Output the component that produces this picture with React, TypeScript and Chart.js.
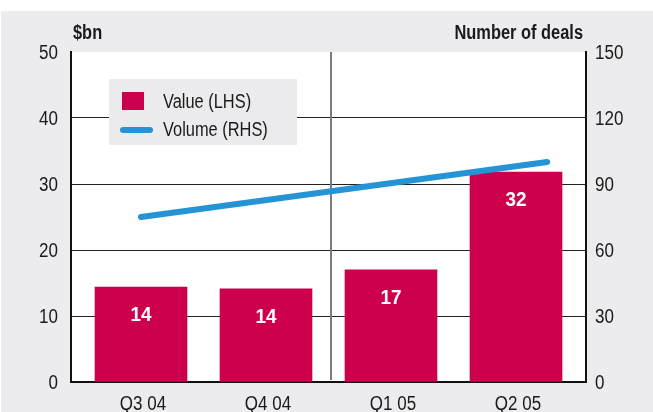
import React, { useEffect, useRef } from "react";
import { Chart, registerables } from "chart.js";

Chart.register(...registerables);

const categories = ["Q3 04", "Q4 04", "Q1 05", "Q2 05"];
const valueBn = [14.4, 14.1, 17, 31.8];
const valueLabels = ["14", "14", "17", "32"];
const volumeX = [0, 3.25];
const volumeDeals = [75, 100];
const leftTicks = [0, 10, 20, 30, 40, 50];
const rightTicks = [0, 30, 60, 90, 120, 150];

const FONT = '"Liberation Sans", Arial, sans-serif';
const RED = "#cc004c";
const BLUE = "#2594d4";
const GRAY = "#ececee";
const INK = "#1a1a1a";

function txt(ctx: any, s: string, x: number, y: number, align: string, font: string, sx: number, color = INK) {
  ctx.save();
  ctx.translate(x, y);
  ctx.scale(sx, 1);
  ctx.font = font;
  ctx.fillStyle = color;
  ctx.textAlign = align;
  ctx.textBaseline = "middle";
  ctx.fillText(s, 0, 0);
  ctx.restore();
}

const decor = {
  id: "decor",
  beforeDraw(chart: any) {
    const { ctx, width, height, chartArea } = chart;
    ctx.save();
    ctx.fillStyle = "#ffffff";
    ctx.fillRect(0, 0, width, height);
    ctx.fillStyle = GRAY;
    ctx.fillRect(1, 11, width - 1, height - 11);
    ctx.fillStyle = "#ffffff";
    ctx.fillRect(chartArea.left, chartArea.top, chartArea.right - chartArea.left, chartArea.bottom - chartArea.top);
    ctx.restore();
  },
  beforeDatasetsDraw(chart: any) {
    const { ctx, chartArea, scales } = chart;
    const x = scales.x.getPixelForValue(1.52);
    ctx.save();
    ctx.strokeStyle = "#7a7a7a";
    ctx.lineWidth = 2;
    ctx.beginPath();
    ctx.moveTo(x, chartArea.top);
    ctx.lineTo(x, chartArea.bottom - 2);
    ctx.stroke();
    ctx.restore();
  },
  afterDatasetDraw(chart: any, args: any) {
    if (args.index !== 0) return;
    const { ctx } = chart;
    const meta = chart.getDatasetMeta(0);
    meta.data.forEach((bar: any, i: number) => {
      txt(ctx, valueLabels[i], bar.x, bar.y + 28, "center", `bold 21px ${FONT}`, 0.9, "#ffffff");
    });
  },
  afterDraw(chart: any) {
    const { ctx, chartArea, scales } = chart;
    // tick labels
    const tf = `20px ${FONT}`;
    leftTicks.forEach((v) => {
      txt(ctx, String(v), chartArea.left - 13, scales.y.getPixelForValue(v) + 1, "right", tf, 0.85);
    });
    rightTicks.forEach((v) => {
      txt(ctx, String(v), chartArea.right + 9, scales.y1.getPixelForValue(v) + 1, "left", tf, 0.85);
    });
    categories.forEach((c, i) => {
      txt(ctx, c, scales.x.getPixelForValue(i) + 2, chartArea.bottom + 22, "center", tf, 0.85);
    });
    // axis titles
    txt(ctx, "$bn", chartArea.left + 2, 33, "left", `bold 20px ${FONT}`, 0.82);
    txt(ctx, "Number of deals", chartArea.right - 3, 33, "right", `bold 20px ${FONT}`, 0.82);
    // legend
    const lx = chartArea.left + 38;
    const ly = chartArea.top + 27;
    ctx.save();
    ctx.fillStyle = "#ebebed";
    ctx.fillRect(lx, ly, 188, 66);
    ctx.fillStyle = RED;
    ctx.fillRect(lx + 13, ly + 13, 22, 18);
    ctx.strokeStyle = BLUE;
    ctx.lineWidth = 6;
    ctx.lineCap = "round";
    ctx.beginPath();
    ctx.moveTo(lx + 14, ly + 51);
    ctx.lineTo(lx + 41, ly + 51);
    ctx.stroke();
    ctx.restore();
    txt(ctx, "Value (LHS)", lx + 54, ly + 23, "left", `20px ${FONT}`, 0.82);
    txt(ctx, "Volume (RHS)", lx + 54, ly + 51, "left", `20px ${FONT}`, 0.82);
  },
};

export default function App() {
  const ref = useRef<HTMLCanvasElement | null>(null);
  useEffect(() => {
    document.body.style.margin = "0";
    const canvas = ref.current;
    if (!canvas) return;
    const chart = new Chart(canvas, {
      type: "bar",
      data: {
        datasets: [
          {
            type: "bar",
            label: "Value (LHS)",
            data: valueBn.map((v, i) => ({ x: i, y: v })),
            backgroundColor: RED,
            barThickness: 92,
            yAxisID: "y",
            order: 2,
          } as any,
          {
            type: "line",
            label: "Volume (RHS)",
            data: volumeDeals.map((v, i) => ({ x: volumeX[i], y: v })),
            borderColor: BLUE,
            borderWidth: 6,
            borderCapStyle: "round",
            pointRadius: 0,
            tension: 0,
            yAxisID: "y1",
            order: 1,
          } as any,
        ],
      },
      options: {
        responsive: false,
        animation: false,
        devicePixelRatio: 1,
        layout: { padding: { top: 52, left: 0, right: 0, bottom: 0 } },
        plugins: { legend: { display: false }, tooltip: { enabled: false } },
        scales: {
          x: {
            type: "linear",
            min: -0.56,
            max: 3.56,
            offset: false,
            afterBuildTicks: (s: any) => {
              s.ticks = categories.map((_, i) => ({ value: i }));
            },
            afterFit: (s: any) => {
              s.height = 30;
            },
            grid: { display: false, drawTicks: false },
            border: { display: true, color: "#111", width: 2 },
            ticks: { display: false },
          },
          y: {
            position: "left",
            min: 0,
            max: 50,
            afterBuildTicks: (s: any) => {
              s.ticks = leftTicks.map((v) => ({ value: v }));
            },
            afterFit: (s: any) => {
              s.width = 71;
            },
            grid: {
              drawTicks: false,
              color: (c: any) => (c.tick && (c.tick.value === 0 || c.tick.value === 50) ? "rgba(0,0,0,0)" : "#222"),
              lineWidth: 1,
            },
            border: { display: true, color: "#111", width: 2 },
            ticks: { display: false },
          },
          y1: {
            position: "right",
            min: 0,
            max: 150,
            afterBuildTicks: (s: any) => {
              s.ticks = rightTicks.map((v) => ({ value: v }));
            },
            afterFit: (s: any) => {
              s.width = 67;
            },
            grid: { display: false, drawTicks: false },
            border: { display: true, color: "#111", width: 2 },
            ticks: { display: false },
          },
        },
      } as any,
      plugins: [decor],
    });
    return () => chart.destroy();
  }, []);
  return (
    <div style={{ position: "fixed", left: 0, top: 0, width: 653, height: 412 }}>
      <canvas ref={ref} width={653} height={412} style={{ width: 653, height: 412, display: "block" }} />
    </div>
  );
}
